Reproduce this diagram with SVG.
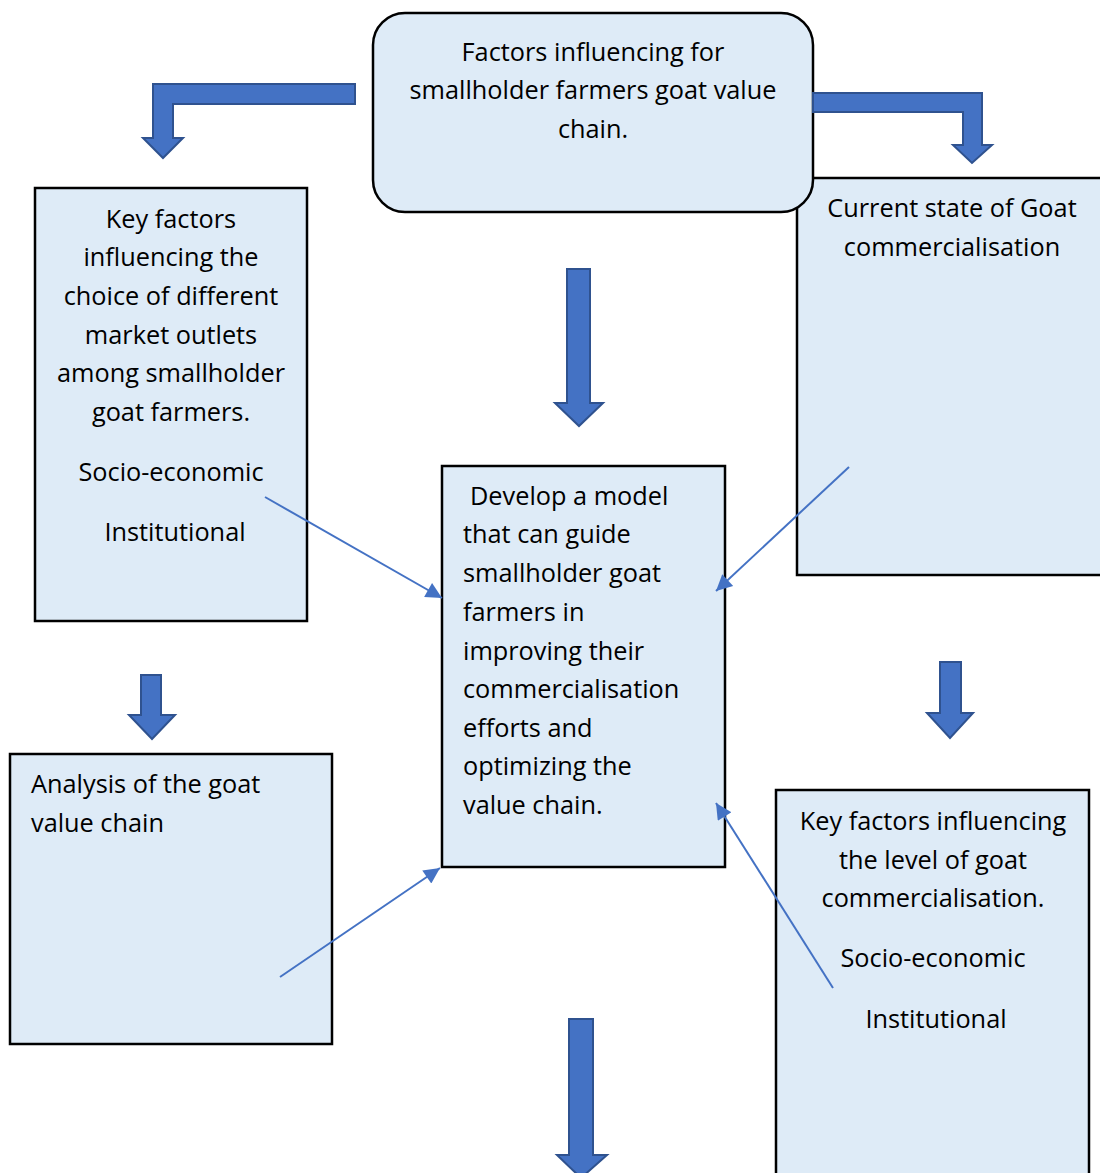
<svg xmlns="http://www.w3.org/2000/svg" width="1100" height="1173" viewBox="0 0 1100 1173">
<defs>
<style>
.box{fill:#DEEBF7;stroke:#000;stroke-width:2.5}
.blk{fill:#4472C4;stroke:#2F528F;stroke-width:2;stroke-linejoin:miter}
.ln{stroke:#4472C4;stroke-width:2;fill:none}
text{font-family:"Open Sans","Liberation Sans",sans-serif;font-size:25.3px;fill:#000}
.c{text-anchor:middle}
</style>
<marker id="ah" viewBox="0 0 10 10" refX="10" refY="5" markerWidth="9" markerHeight="8" markerUnits="strokeWidth" orient="auto">
<path d="M0,0 L10,5 L0,10 z" fill="#4472C4"/>
</marker>
</defs>
<rect width="1100" height="1173" fill="#fff"/>

<g id="node-current-state">
<rect class="box" x="797" y="178" width="310" height="397"/>
<text class="c" x="952" y="217">Current state of Goat</text>
<text class="c" x="952" y="256">commercialisation</text>
</g>

<g id="node-top">
<rect class="box" x="373" y="13" width="440" height="199" rx="32"/>
<text class="c" x="593" y="61">Factors influencing for</text>
<text class="c" x="593" y="99">smallholder farmers goat value</text>
<text class="c" x="593" y="138">chain.</text>
</g>

<g id="node-key-factors-outlets">
<rect class="box" x="35" y="188" width="272" height="433"/>
<text class="c" x="171" y="228">Key factors</text>
<text class="c" x="171" y="266">influencing the</text>
<text class="c" x="171" y="305">choice of different</text>
<text class="c" x="171" y="344">market outlets</text>
<text class="c" x="171" y="382">among smallholder</text>
<text class="c" x="171" y="421">goat farmers.</text>
<text class="c" x="171" y="481">Socio-economic</text>
<text class="c" x="175" y="541">Institutional</text>
</g>

<g id="node-model">
<rect class="box" x="442" y="466" width="283" height="401"/>
<text x="470" y="505">Develop a model</text>
<text x="463" y="543">that can guide</text>
<text x="463" y="582">smallholder goat</text>
<text x="463" y="621">farmers in</text>
<text x="463" y="660">improving their</text>
<text x="463" y="698">commercialisation</text>
<text x="463" y="737">efforts and</text>
<text x="463" y="775">optimizing the</text>
<text x="463" y="814">value chain.</text>
</g>

<g id="node-analysis">
<rect class="box" x="10" y="754" width="322" height="290"/>
<text x="31" y="793">Analysis of the goat</text>
<text x="31" y="832">value chain</text>
</g>

<g id="node-key-factors-level">
<rect class="box" x="776" y="790" width="313" height="400"/>
<text class="c" x="933" y="830">Key factors influencing</text>
<text class="c" x="933" y="869">the level of goat</text>
<text class="c" x="933" y="907">commercialisation.</text>
<text class="c" x="933" y="967">Socio-economic</text>
<text class="c" x="936" y="1028">Institutional</text>
</g>

<g id="connectors">
<path class="blk" d="M355,84 L153,84 L153,138 L143,138 L163,158 L183,138 L173,138 L173,104 L355,104 Z"/>
<path class="blk" d="M813,93 L982,93 L982,145 L992,145 L972,163 L953,145 L963,145 L963,112 L813,112 Z"/>
<path class="blk" d="M567,269 L590,269 L590,403 L603,403 L579,426 L555,403 L567,403 Z"/>
<path class="blk" d="M141,675 L161,675 L161,715 L175,715 L152,739 L129,715 L141,715 Z"/>
<path class="blk" d="M940,662 L961,662 L961,713 L973,713 L950,738 L927,713 L940,713 Z"/>
<path class="blk" d="M569,1019 L593,1019 L593,1155 L607,1155 L581,1178 L557,1155 L569,1155 Z"/>
<line class="ln" x1="265" y1="497" x2="442" y2="598" marker-end="url(#ah)"/>
<line class="ln" x1="849" y1="467" x2="716" y2="591" marker-end="url(#ah)"/>
<line class="ln" x1="280" y1="977" x2="440" y2="868" marker-end="url(#ah)"/>
<line class="ln" x1="833" y1="988" x2="716" y2="803" marker-end="url(#ah)"/>
</g>
</svg>
